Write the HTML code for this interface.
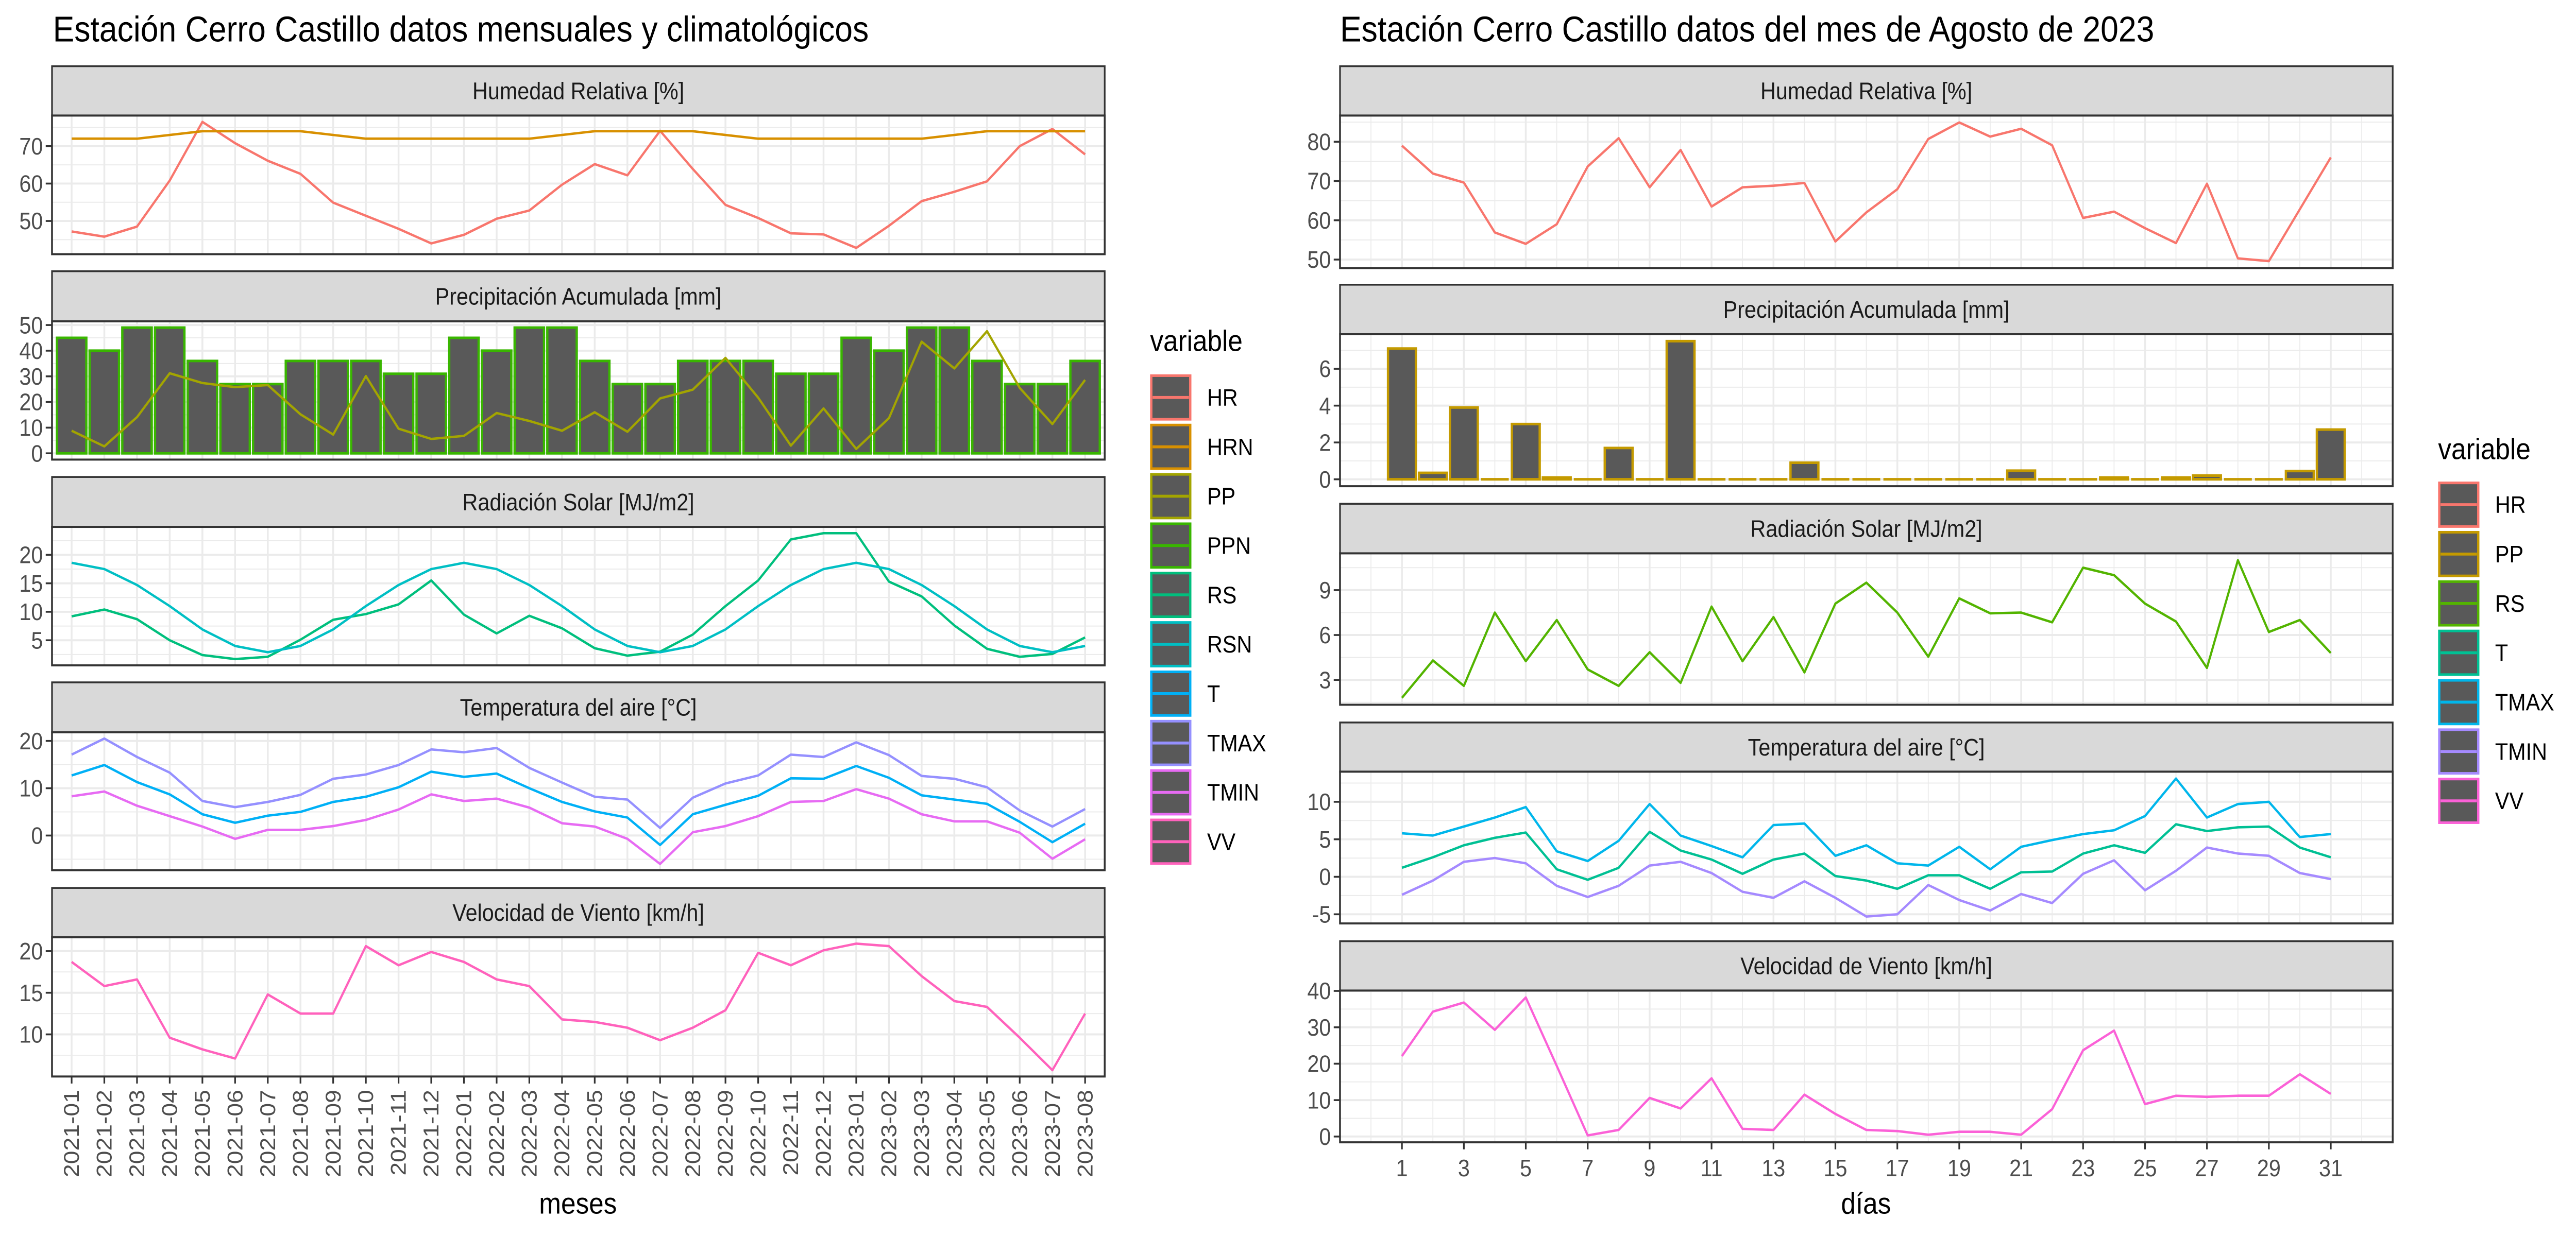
<!DOCTYPE html>
<html><head><meta charset="utf-8">
<style>
html,body{margin:0;padding:0;background:#fff;overflow:hidden;width:100%;height:100%;}
svg{display:block;width:100vw;height:100vh;font-family:"Liberation Sans",Arial,sans-serif;}
</style></head>
<body>
<svg id="chart" xmlns="http://www.w3.org/2000/svg" viewBox="0 0 1560 668.57" preserveAspectRatio="none">
<rect x="0" y="0" width="1560" height="668.57" fill="#ffffff"/>
</svg>
<script>
// ---------- data: monthly (left) ----------
const months = ['2021-01','2021-02','2021-03','2021-04','2021-05','2021-06','2021-07','2021-08','2021-09','2021-10','2021-11','2021-12','2022-01','2022-02','2022-03','2022-04','2022-05','2022-06','2022-07','2022-08','2022-09','2022-10','2022-11','2022-12','2023-01','2023-02','2023-03','2023-04','2023-05','2023-06','2023-07','2023-08'];
const hrM   = [47.2,45.8,48.5,60.8,76.5,70.8,66.1,62.6,54.9,51.4,47.9,44.0,46.3,50.6,52.8,59.7,65.2,62.2,74.1,63.9,54.3,50.8,46.7,46.4,42.8,48.7,55.3,57.8,60.6,70.0,74.6,67.8];
const hrnM  = [72,72,72,73,74,74,74,74,73,72,72,72,72,72,72,73,74,74,74,74,73,72,72,72,72,72,72,73,74,74,74,74];
const ppM   = [8.8,2.7,14.1,31.2,27.4,25.8,26.6,15.2,7.3,30.1,9.6,5.6,6.8,15.7,12.6,8.8,16.0,8.4,21.4,24.8,37.2,21.7,3.0,17.5,1.7,13.7,43.5,33.1,47.6,25.5,11.4,28.6];
const ppnM  = [45,40,49,49,36,27,27,36,36,36,31,31,45,40,49,49,36,27,27,36,36,36,31,31,45,40,49,49,36,27,27,36];
const rsM   = [9.2,10.4,8.7,5.0,2.4,1.7,2.1,5.1,8.6,9.6,11.3,15.5,9.5,6.2,9.3,7.1,3.6,2.3,3.0,6.0,11.0,15.5,22.7,23.8,23.8,15.3,12.7,7.6,3.5,2.1,2.6,5.5];
const rsnM  = [18.6,17.5,14.7,11.0,6.9,4.0,2.9,4.0,6.9,11.0,14.7,17.5,18.6,17.5,14.7,11.0,6.9,4.0,2.9,4.0,6.9,11.0,14.7,17.5,18.6,17.5,14.7,11.0,6.9,4.0,2.9,4.0];
const tM    = [12.7,14.9,11.3,8.7,4.5,2.7,4.2,5.0,7.1,8.2,10.2,13.5,12.4,13.1,10.0,7.1,5.1,3.8,-2.0,4.5,6.5,8.4,12.1,12.0,14.7,12.2,8.5,7.6,6.7,2.9,-1.4,2.5];
const tmaxM = [17.1,20.5,16.6,13.3,7.3,6.0,7.1,8.6,12.0,12.9,14.9,18.2,17.6,18.5,14.3,11.2,8.2,7.6,1.6,8.0,11.0,12.7,17.1,16.6,19.7,17.0,12.6,12.0,10.2,5.3,1.9,5.6];
const tminM = [8.3,9.3,6.3,4.1,1.9,-0.7,1.2,1.2,2.0,3.3,5.5,8.7,7.3,7.8,5.9,2.6,1.9,-0.7,-6.0,0.7,2.0,4.1,7.1,7.3,9.8,7.8,4.5,3.0,3.0,0.6,-4.9,-0.8];
const vvM   = [18.7,15.8,16.6,9.6,8.2,7.1,14.8,12.5,12.5,20.6,18.3,19.9,18.7,16.6,15.8,11.8,11.5,10.8,9.3,10.8,12.9,19.8,18.3,20.1,20.9,20.6,17.0,14.0,13.3,9.6,5.7,12.5];
// ---------- data: daily (right) ----------
const days  = [1,2,3,4,5,6,7,8,9,10,11,12,13,14,15,16,17,18,19,20,21,22,23,24,25,26,27,28,29,30,31];
const hrD   = [79,71.9,69.6,56.9,54,59,73.7,80.9,68.4,77.9,63.5,68.4,68.8,69.5,54.6,62,67.9,80.7,84.9,81.3,83.3,79.1,60.6,62.2,58,54.2,69.3,50.3,49.6,62.8,76];
const ppD   = [7.1,0.35,3.9,0,3.0,0.1,0,1.7,0,7.5,0,0,0,0.9,0,0,0,0,0,0,0.47,0,0,0.1,0,0.1,0.2,0,0,0.45,2.7];
const rsD   = [1.8,4.3,2.6,7.5,4.25,7.0,3.7,2.6,4.85,2.8,7.9,4.25,7.2,3.5,8.1,9.5,7.5,4.55,8.45,7.45,7.5,6.85,10.5,10.0,8.1,6.9,3.8,11.0,6.2,7.0,4.8];
const tD    = [1.2,2.6,4.2,5.2,5.9,1.0,-0.4,1.2,6.0,3.5,2.3,0.4,2.3,3.1,0.1,-0.5,-1.6,0.2,0.2,-1.6,0.6,0.7,3.1,4.2,3.2,7.0,6.1,6.6,6.7,3.9,2.6];
const tmaxD = [5.8,5.5,6.7,7.9,9.3,3.4,2.1,4.8,9.7,5.5,4.1,2.6,6.9,7.1,2.8,4.2,1.8,1.5,4.0,1.0,4.0,4.9,5.7,6.2,8.1,13.1,7.9,9.7,10.0,5.3,5.7];
const tminD = [-2.4,-0.5,2.0,2.5,1.8,-1.2,-2.7,-1.2,1.5,2.0,0.5,-2.0,-2.8,-0.6,-2.8,-5.3,-5.0,-1.1,-3.1,-4.5,-2.3,-3.5,0.4,2.2,-1.8,0.8,3.9,3.1,2.8,0.5,-0.3];
const vvD   = [22.1,34.3,36.8,29.3,38.2,19.4,0.3,1.8,10.6,7.7,16.0,2.1,1.8,11.5,6.2,1.8,1.5,0.5,1.3,1.3,0.5,7.5,23.7,29.1,8.9,11.2,10.9,11.2,11.2,17.1,11.7];
// tick labels
const hrTicksL = [50,60,70];
const ppTicksL = [0,10,20,30,40,50];
const rsTicksL = [5,10,15,20];
const tTicksL  = [0,10,20];
const vvTicksL = [10,15,20];
const hrTicksR = [50,60,70,80];
const ppTicksR = [0,2,4,6];
const rsTicksR = [3,6,9];
const tTicksR  = [-5,0,5,10];
const vvTicksR = [0,10,20,30,40];
const dayTicks = [1,3,5,7,9,11,13,15,17,19,21,23,25,27,29,31];
const legendLeft  = ['HR','HRN','PP','PPN','RS','RSN','T','TMAX','TMIN','VV'];
const legendRight = ['HR','PP','RS','T','TMAX','TMIN','VV'];

const colL = {HR:'#F8766D',HRN:'#D89000',PP:'#A3A500',PPN:'#39B600',RS:'#00BF7D',RSN:'#00BFC4',T:'#00B0F6',TMAX:'#9590FF',TMIN:'#E76BF3',VV:'#FF62BC'};
const colR = {HR:'#F8766D',PP:'#C49A00',RS:'#53B400',T:'#00C094',TMAX:'#00B6EB',TMIN:'#A58AFF',VV:'#FB61D7'};

const NS='http://www.w3.org/2000/svg';
const svg=document.getElementById('chart');
function mk(tag, attrs, parent){
  const e=document.createElementNS(NS,tag);
  for(const k in attrs) e.setAttribute(k,attrs[k]);
  (parent||svg).appendChild(e);
  return e;
}
function ext(arrs, incl0){
  let lo=Infinity, hi=-Infinity;
  arrs.forEach(a=>a.forEach(v=>{if(v<lo)lo=v;if(v>hi)hi=v;}));
  if(incl0){lo=Math.min(lo,0);hi=Math.max(hi,0);}
  const p=(hi-lo)*0.05; return [lo-p, hi+p];
}
function minors(ticks, d){
  const st=ticks[1]-ticks[0]; const out=[];
  for(let v=ticks[0]-st/2; v<=d[1]; v+=st) if(v>=d[0]) out.push(v);
  return out;
}
function fmt(v){return v<0?'-'+Math.abs(v):String(v);}

function panel(o){
  const g=mk('g',{});
  
  
  const X=v=>o.x0+(v-o.xd[0])/(o.xd[1]-o.xd[0])*(o.x1-o.x0);
  const Y=v=>o.pTop+(o.yd[1]-v)/(o.yd[1]-o.yd[0])*(o.pBot-o.pTop);
  mk('rect',{x:o.x0,y:o.pTop,width:o.x1-o.x0,height:o.pBot-o.pTop,fill:'#fff'},g);
  const grid=mk('g',{},g);
  
  
  minors(o.yTicks,o.yd).forEach(v=>mk('line',{x1:o.x0,x2:o.x1,y1:Y(v),y2:Y(v),stroke:'#EBEBEB','stroke-width':0.55},grid));
  (o.xMin||[]).forEach(v=>mk('line',{x1:X(v),x2:X(v),y1:o.pTop,y2:o.pBot,stroke:'#EBEBEB','stroke-width':0.55},grid));
  o.yTicks.forEach(v=>mk('line',{x1:o.x0,x2:o.x1,y1:Y(v),y2:Y(v),stroke:'#EBEBEB','stroke-width':1.1},grid));
  o.xMaj.forEach(v=>mk('line',{x1:X(v),x2:X(v),y1:o.pTop,y2:o.pBot,stroke:'#EBEBEB','stroke-width':1.1},grid));
  const sr=mk('rect',{x:o.x0,y:o.sTop,width:o.x1-o.x0,height:o.pTop-o.sTop,fill:'#D9D9D9',stroke:'#333333','stroke-width':1},g);
  
  
  const st=mk('text',{x:(o.x0+o.x1)/2,y:(o.sTop+o.pTop)/2+4.5,'text-anchor':'middle','font-size':12.9,fill:'#1A1A1A'},g);
  st.textContent=o.title;
  
  
  o.yTicks.forEach(v=>{
    mk('line',{x1:o.x0-3.8,x2:o.x0,y1:Y(v),y2:Y(v),stroke:'#333333','stroke-width':1},g);
    const t=mk('text',{x:o.x0-5.5,y:Y(v)+4.5,'text-anchor':'end','font-size':12.9,fill:'#4D4D4D'},g);
    t.textContent=fmt(v);
    
    
  });
  const data=mk('g',{},g);
  
  
  return {g,data,X,Y,o};
}
function finish(p){
  const b=mk('rect',{x:p.o.x0,y:p.o.pTop,width:p.o.x1-p.o.x0,height:p.o.pBot-p.o.pTop,fill:'none',stroke:'#333333','stroke-width':1.1},p.g);
  
  
}
function line(p, xs, ys, color, name){
  const d=ys.map((v,i)=>(i?'L':'M')+p.X(xs[i]).toFixed(2)+','+p.Y(v).toFixed(2)).join('');
  const e=mk('path',{d:d,fill:'none',stroke:color,'stroke-width':1.3,'stroke-linejoin':'round'},p.data);
  
  
}
function bars(p, xs, ys, color, name){
  ys.forEach((v,i)=>{
    const xa=p.X(xs[i]-0.45), xb=p.X(xs[i]+0.45), y0=p.Y(0), y1=p.Y(v);
    const e=mk('path',{d:`M${xa},${y0}L${xa},${y1}L${xb},${y1}L${xb},${y0}Z`,fill:'#595959',stroke:color,'stroke-width':1.4},p.data);
    
    
  });
}
function legend(x, yTitle, yFirst, labels, cols, prefix){
  const g=mk('g',{});
  
  
  const t=mk('text',{x:x,y:yTitle,'font-size':16,fill:'#000'},g);
  t.textContent='variable';
  
  
  labels.forEach((lab,i)=>{
    const y=yFirst+i*26.7;
    const k=mk('g',{},g);
    
    
    mk('rect',{x:x+0.7,y:y+0.7,width:23.6,height:23.6,fill:'#595959',stroke:cols[lab],'stroke-width':1.4},k);
    mk('line',{x1:x+1.5,x2:x+23.5,y1:y+12.5,y2:y+12.5,stroke:cols[lab],'stroke-width':1.6},k);
    const lt=mk('text',{x:x+34.5,y:y+17,'font-size':12.9,fill:'#000'},k);
    lt.textContent=lab;
  });
}
function txt(x,y,s,size,anchor,name){
  const t=mk('text',{x:x,y:y,'font-size':size,'text-anchor':anchor,fill:'#000'});
  t.textContent=s;
  
  
}

// ---------- LEFT ----------
txt(32,22.4,'Estación Cerro Castillo datos mensuales y climatológicos',19.5,'start','left-chart-title');
const mi=months.map((m,i)=>i);
const LX={x0:31.5,x1:669,xd:[-0.6,months.length-0.4],xMaj:mi};
let p;
p=panel(Object.assign({name:'left-humedad',title:'Humedad Relativa [%]',sTop:35.8,pTop:62.5,pBot:137.5,yd:ext([hrM,hrnM]),yTicks:hrTicksL},LX));
line(p,mi,hrM,colL.HR,'hr-line'); line(p,mi,hrnM,colL.HRN,'hrn-line'); finish(p);
p=panel(Object.assign({name:'left-precip',title:'Precipitación Acumulada [mm]',sTop:146.7,pTop:173.8,pBot:248.6,yd:ext([ppM,ppnM],true),yTicks:ppTicksL},LX));
bars(p,mi,ppnM,colL.PPN,'ppn-bar'); line(p,mi,ppM,colL.PP,'pp-line'); finish(p);
p=panel(Object.assign({name:'left-radiacion',title:'Radiación Solar [MJ/m2]',sTop:258,pTop:285,pBot:359.9,yd:ext([rsM,rsnM]),yTicks:rsTicksL},LX));
line(p,mi,rsM,colL.RS,'rs-line'); line(p,mi,rsnM,colL.RSN,'rsn-line'); finish(p);
p=panel(Object.assign({name:'left-temperatura',title:'Temperatura del aire [°C]',sTop:369.1,pTop:396.1,pBot:470.7,yd:ext([tM,tmaxM,tminM]),yTicks:tTicksL},LX));
line(p,mi,tM,colL.T,'t-line'); line(p,mi,tmaxM,colL.TMAX,'tmax-line'); line(p,mi,tminM,colL.TMIN,'tmin-line'); finish(p);
p=panel(Object.assign({name:'left-viento',title:'Velocidad de Viento [km/h]',sTop:480.3,pTop:507,pBot:582.3,yd:ext([vvM]),yTicks:vvTicksL},LX));
line(p,mi,vvM,colL.VV,'vv-line'); finish(p);
months.forEach((m,i)=>{
  const x=p.X(i);
  mk('line',{x1:x,x2:x,y1:582.3,y2:586.1,stroke:'#333333','stroke-width':1});
  const t=mk('text',{'font-size':12.9,fill:'#4D4D4D','text-anchor':'end',transform:`translate(${x+4.4},589.5) rotate(-90)`});
  t.textContent=m;
  
  
});
txt(350,656.5,'meses',16,'middle','left-x-axis-title');
legend(696.5,189.8,202.5,legendLeft,colL,'left');

// ---------- RIGHT ----------
txt(811.5,22.4,'Estación Cerro Castillo datos del mes de Agosto de 2023',19.5,'start','right-chart-title');
const allDays=[]; for(let d=0; d<=32; d++) allDays.push(d);
const RX={x0:811.5,x1:1449,xd:[-1,33],xMaj:dayTicks,xMin:allDays.filter(d=>d%2===0)};
p=panel(Object.assign({name:'right-humedad',title:'Humedad Relativa [%]',sTop:35.8,pTop:62.5,pBot:145,yd:ext([hrD]),yTicks:hrTicksR},RX));
line(p,days,hrD,colR.HR,'hr-daily-line'); finish(p);
p=panel(Object.assign({name:'right-precip',title:'Precipitación Acumulada [mm]',sTop:154,pTop:180.8,pBot:263,yd:ext([ppD],true),yTicks:ppTicksR},RX));
bars(p,days,ppD,colR.PP,'pp-daily-bar'); finish(p);
p=panel(Object.assign({name:'right-radiacion',title:'Radiación Solar [MJ/m2]',sTop:272.5,pTop:299.3,pBot:381.2,yd:ext([rsD]),yTicks:rsTicksR},RX));
line(p,days,rsD,colR.RS,'rs-daily-line'); finish(p);
p=panel(Object.assign({name:'right-temperatura',title:'Temperatura del aire [°C]',sTop:390.8,pTop:417.4,pBot:499.5,yd:ext([tD,tmaxD,tminD]),yTicks:tTicksR},RX));
line(p,days,tD,colR.T,'t-daily-line'); line(p,days,tmaxD,colR.TMAX,'tmax-daily-line'); line(p,days,tminD,colR.TMIN,'tmin-daily-line'); finish(p);
p=panel(Object.assign({name:'right-viento',title:'Velocidad de Viento [km/h]',sTop:509.1,pTop:535.8,pBot:617.9,yd:ext([vvD]),yTicks:vvTicksR},RX));
line(p,days,vvD,colR.VV,'vv-daily-line'); finish(p);
dayTicks.forEach(d=>{
  const x=p.X(d);
  mk('line',{x1:x,x2:x,y1:617.9,y2:621.7,stroke:'#333333','stroke-width':1});
  const t=mk('text',{x:x,y:636.3,'font-size':12.9,fill:'#4D4D4D','text-anchor':'middle'});
  t.textContent=String(d);
  
  
});
txt(1130,656.5,'días',16,'middle','right-x-axis-title');
legend(1476.5,248.4,260.5,legendRight,colR,'right');
</script>
</body></html>
